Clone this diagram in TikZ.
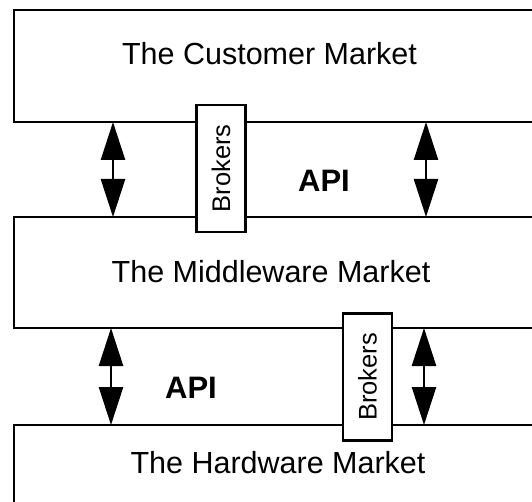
\documentclass[tikz,border=0pt]{standalone}
\usepackage{fontspec}
\setmainfont{Liberation Sans}
\usetikzlibrary{arrows.meta,calc}
\begin{document}
\begin{tikzpicture}[x=1pt,y=-1pt,
  market/.style={draw, line width=2.6pt, rectangle, anchor=north west, inner sep=0pt, outer sep=0pt, minimum width=540pt},
  mlabel/.style={anchor=base, font=\fontsize{30.5}{36}\selectfont, inner sep=0pt},
  apilabel/.style={anchor=base, font=\fontsize{31}{36}\selectfont\bfseries, inner sep=0pt},
  broker/.style={draw, fill=white, line width=2.4pt, rotate=90, minimum width=127pt, minimum height=49pt, inner sep=0pt, outer sep=0pt, font=\fontsize{25.5}{30}\selectfont},
  apiarrow/.style={line width=2.6pt, {Triangle[width=24pt,length=38pt]}-{Triangle[width=24pt,length=38pt]}}
]
\clip (0,0) rectangle (532,502);
\fill[white] (0,0) rectangle (532,502);
% market layers
\node[market, minimum height=112pt] (cust) at (14,10) {};
\node[market, minimum height=111pt] (mid) at (14,217) {};
\node[market, minimum height=100pt] (hard) at (14,425) {};
% labels
\node[mlabel] (custlabel) at (269.5,65) {The Customer Market};
\node[mlabel] (midlabel) at (271,283) {The Middleware Market};
\node[mlabel] (hardlabel) at (278,473) {The Hardware Market};
\node[apilabel] (api1) at (324,192) {API};
\node[apilabel] (api2) at (191,398) {API};
% arrows
\draw[apiarrow] ($(cust.south west)+(99,0)$) -- ($(mid.north west)+(99,0)$);
\draw[apiarrow] ($(cust.south west)+(412,0)$) -- ($(mid.north west)+(412,0)$);
\draw[apiarrow] ($(mid.south west)+(97,0)$) -- ($(hard.north west)+(97,0)$);
\draw[apiarrow] ($(mid.south west)+(410,0)$) -- ($(hard.north west)+(410,0)$);
% brokers
\node[broker] (brok1) at (221,168.5) {Brokers};
\node[broker] (brok2) at (367.5,377) {Brokers};
\end{tikzpicture}
\end{document}
